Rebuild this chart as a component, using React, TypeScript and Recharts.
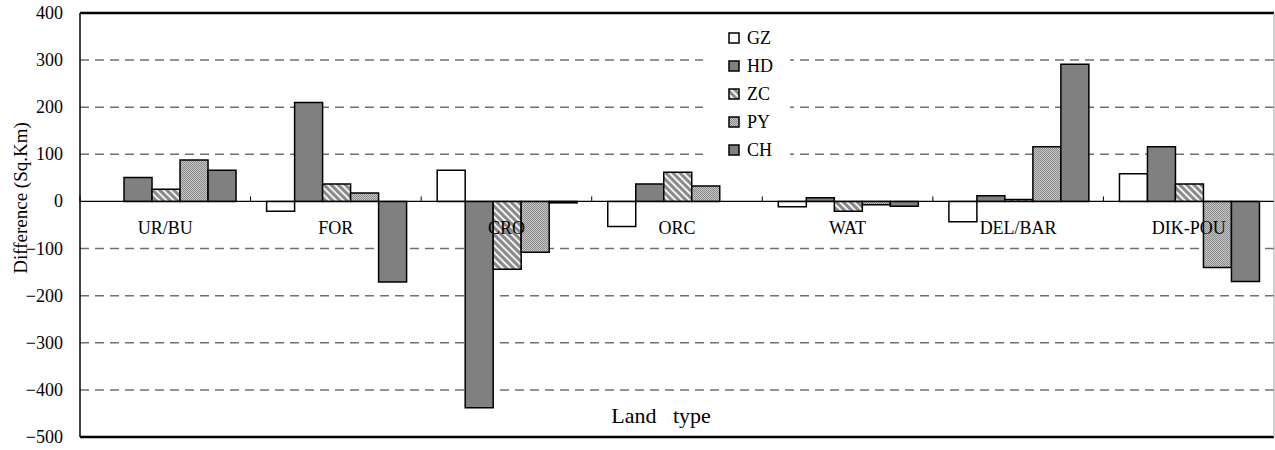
import React from 'react';
import { BarChart, Bar, XAxis, YAxis, CartesianGrid, ReferenceLine, Legend } from 'recharts';

// land types on the x axis
const categories = ['UR/BU', 'FOR', 'CRO', 'ORC', 'WAT', 'DEL/BAR', 'DIK-POU'];

// difference per region (Sq.Km)
const gz = [0, -21, 66, -53, -11, -43, 59];
const hd = [51, 210, -438, 37, 8, 12, 116];
const zc = [26, 37, -144, 62, -21, 4, 37];
const py = [88, 18, -108, 33, -7, 116, -140];
const ch = [66, -171, -3, 0, -10, 291, -170];

const yTicks = [400, 300, 200, 100, 0, -100, -200, -300, -400, -500];
const gridValues = [300, 200, 100, -100, -200, -300, -400];

const series = [
  { key: 'GZ', values: gz, fill: '#ffffff' },
  { key: 'HD', values: hd, fill: '#808080' },
  { key: 'ZC', values: zc, fill: 'url(#hatchZC)' },
  { key: 'PY', values: py, fill: 'url(#dotsPY)' },
  { key: 'CH', values: ch, fill: '#808080' },
];

const data = categories.map((name, i) => {
  const row: Record<string, string | number> = { name };
  series.forEach((s) => {
    row[s.key] = s.values[i];
  });
  return row;
});

const FONT = 'Liberation Serif';
const W = 1275;
const H = 450;
const TOP = 13;
const BOTTOM = 13;
const LEFT = 80;
const Y_MAX = 400;
const Y_MIN = -500;
const PLOT_H = H - TOP - BOTTOM;
const ZERO_Y = TOP + (PLOT_H * Y_MAX) / (Y_MAX - Y_MIN);
const BAND = (W - LEFT - 1) / categories.length;

const fmt = (v: number) => (v < 0 ? '\u2212' + Math.abs(v) : String(v));

const YTick = (props: any) => {
  const { x, y, payload } = props;
  return (
    <text x={x} y={y} textAnchor="end" dominantBaseline="central" fontFamily={FONT} fontSize={18} fill="#000">
      {fmt(payload.value)}
    </text>
  );
};

// category names sit just under the zero line, small tick marks between groups
const CategoryLabel = (props: any) => {
  const { viewBox, name } = props;
  const x = viewBox.x;
  return (
    <g>
      <line x1={x - BAND / 2} x2={x - BAND / 2} y1={ZERO_Y - 5} y2={ZERO_Y} stroke="#000" strokeWidth={1} />
      <text
        x={x}
        y={ZERO_Y + 27}
        textAnchor="middle"
        dominantBaseline="central"
        fontFamily={FONT}
        fontSize={18}
        fill="#000"
      >
        {name}
      </text>
    </g>
  );
};

const YTitle = () => (
  <text
    x={20}
    y={198}
    transform="rotate(-90 20 198)"
    textAnchor="middle"
    dominantBaseline="central"
    fontFamily={FONT}
    fontSize={19}
    fill="#000"
  >
    Difference (Sq.Km)
  </text>
);

const XTitle = (props: any) => {
  const { viewBox } = props;
  return (
    <text
      x={viewBox.x + viewBox.width / 2 - 16}
      y={viewBox.y}
      textAnchor="middle"
      dominantBaseline="central"
      fontFamily={FONT}
      fontSize={22}
      fill="#000"
    >
      {'Land\u00a0\u00a0\u00a0type'}
    </text>
  );
};

const LegendBox = () => (
  <div style={{ fontFamily: FONT, fontSize: 18, color: '#000' }}>
    {series.map((s) => (
      <div key={s.key} style={{ height: 28, position: 'relative' }}>
        <svg width={12} height={12} style={{ position: 'absolute', left: 25, top: 8 }}>
          <rect x={1} y={1} width={10} height={10} fill={s.fill} stroke="#000" strokeWidth={1.5} />
        </svg>
        <span style={{ position: 'absolute', left: 44, top: 3, lineHeight: '22px' }}>{s.key}</span>
      </div>
    ))}
  </div>
);

export default function App() {
  return (
    <div style={{ position: 'absolute', left: 0, top: 0, width: W, height: H, background: '#fff', fontFamily: FONT }}>
      <BarChart
        width={W}
        height={H}
        data={data}
        margin={{ top: TOP, right: 0, bottom: BOTTOM, left: 0 }}
        barCategoryGap="9.4%"
        barGap={0}
      >
        <defs>
          <pattern id="hatchZC" width="5" height="5" patternUnits="userSpaceOnUse" patternTransform="rotate(-45)">
            <rect width="5" height="5" fill="#8a8a8a" />
            <rect width="2" height="5" fill="#f2f2f2" />
          </pattern>
          <pattern id="dotsPY" width="2" height="2" patternUnits="userSpaceOnUse">
            <rect width="2" height="2" fill="#c8c8c8" />
            <rect width="1" height="1" fill="#8a8a8a" />
            <rect x="1" y="1" width="1" height="1" fill="#8a8a8a" />
          </pattern>
        </defs>
        <CartesianGrid
          vertical={false}
          horizontalValues={gridValues}
          stroke="#707070"
          strokeWidth={1.5}
          strokeDasharray="9 6"
        />
        <XAxis dataKey="name" hide />
        <YAxis
          type="number"
          domain={[Y_MIN, Y_MAX]}
          ticks={yTicks}
          interval={0}
          width={LEFT}
          tickSize={0}
          tickMargin={17}
          tickLine={false}
          axisLine={{ stroke: '#000', strokeWidth: 1.5 }}
          tick={<YTick />}
          label={<YTitle />}
        />
        <YAxis
          yAxisId="right"
          orientation="right"
          type="number"
          domain={[Y_MIN, Y_MAX]}
          width={1}
          tick={false}
          tickLine={false}
          axisLine={{ stroke: '#a0a0a0', strokeWidth: 1 }}
        />
        <Legend
          layout="vertical"
          align="center"
          verticalAlign="middle"
          wrapperStyle={{ position: 'absolute', left: 703, top: 24, width: 87, height: 140, background: '#fff' }}
          content={() => <LegendBox />}
        />
        {series.map((s) => (
          <Bar
            key={s.key}
            dataKey={s.key}
            fill={s.fill}
            stroke="#000"
            strokeWidth={1.5}
            isAnimationActive={false}
          />
        ))}
        <ReferenceLine y={0} stroke="#000" strokeWidth={1.2} />
        <ReferenceLine y={Y_MAX} stroke="#000" strokeWidth={2.5} />
        <ReferenceLine y={Y_MIN} stroke="#000" strokeWidth={2.5} />
        {categories.map((c) => (
          <ReferenceLine key={c} x={c} stroke="none" label={<CategoryLabel name={c} />} />
        ))}
        <ReferenceLine y={-454} stroke="none" label={<XTitle />} />
      </BarChart>
    </div>
  );
}
